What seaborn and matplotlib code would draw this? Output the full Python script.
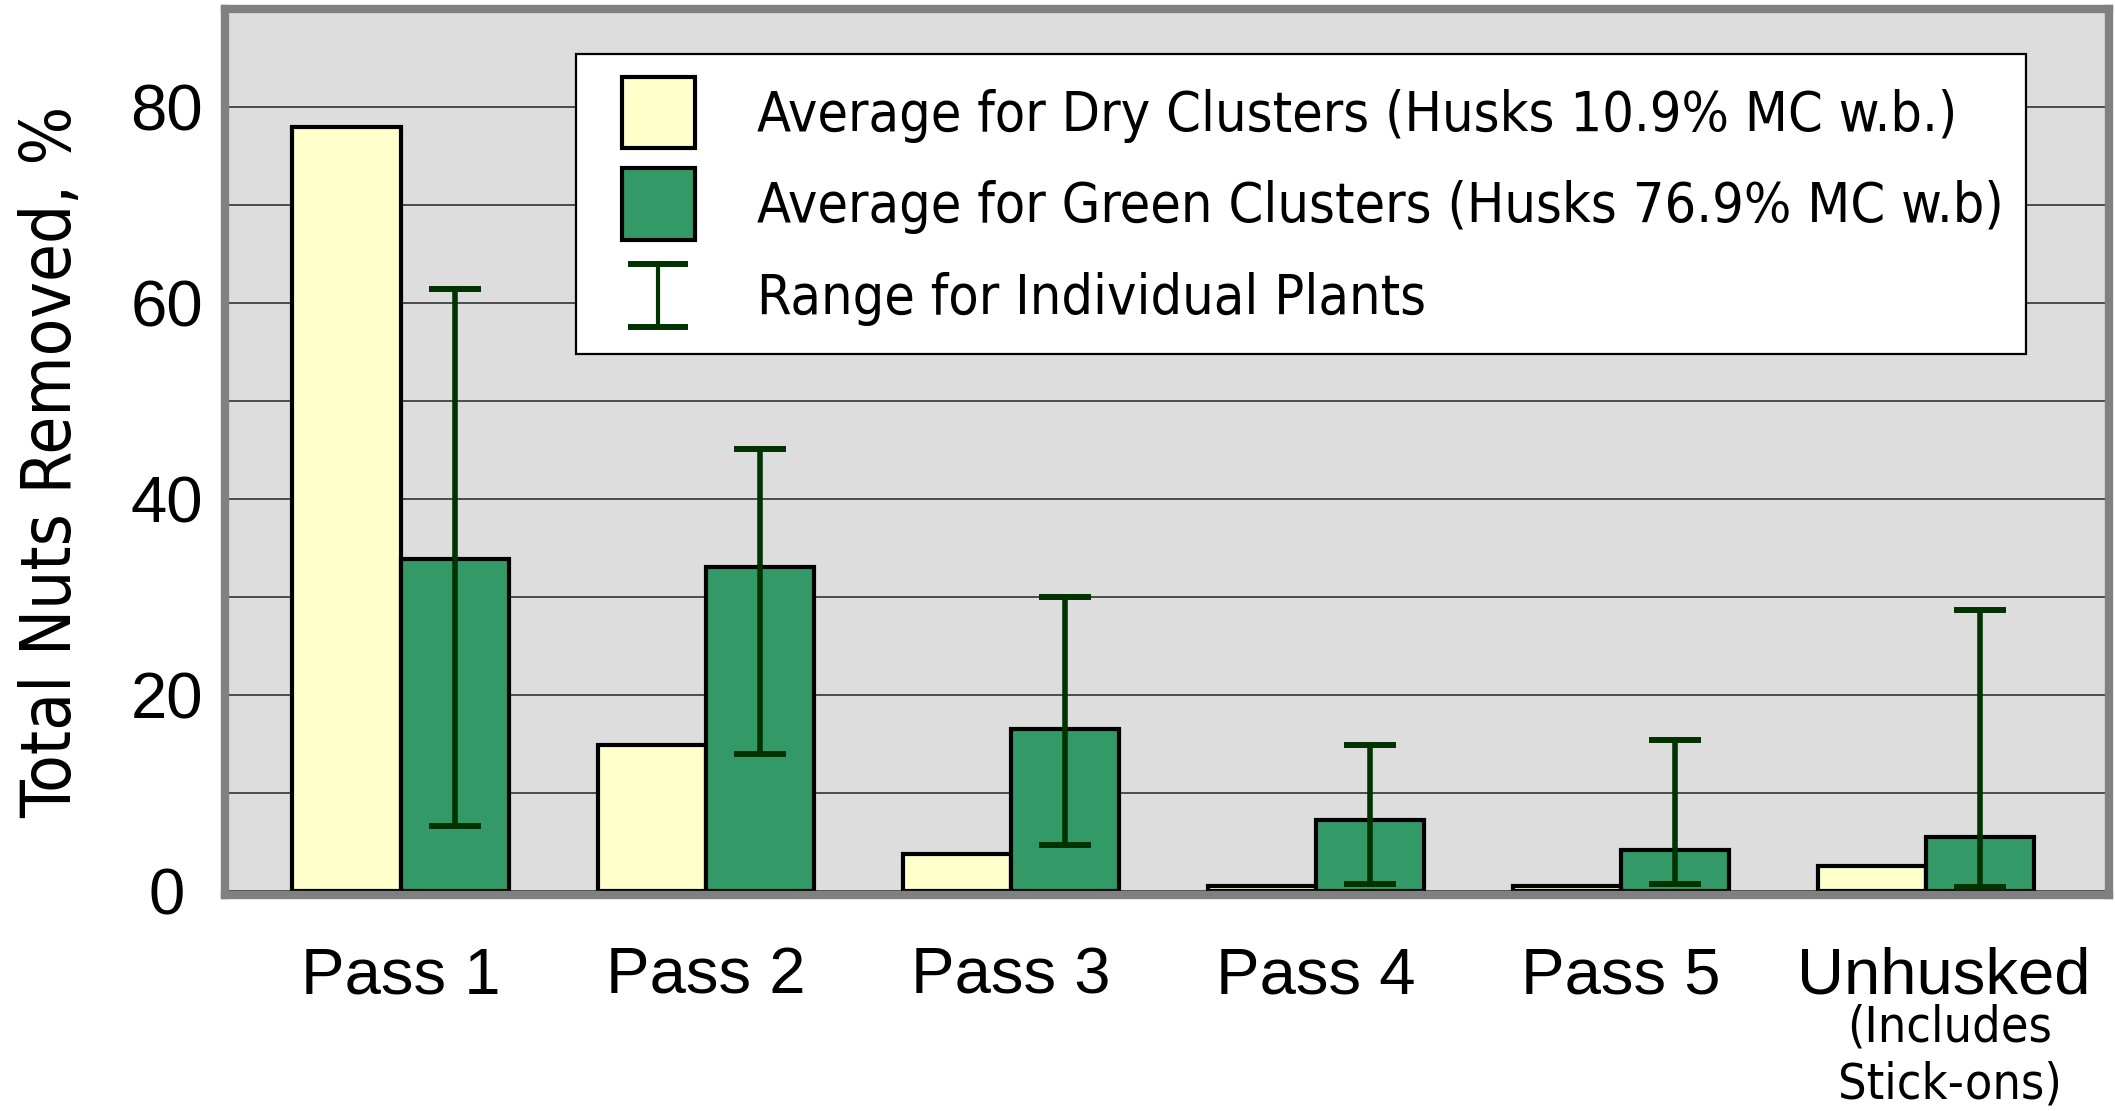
import numpy as np
import pandas as pd
import matplotlib
matplotlib.use("Agg")
import matplotlib.pyplot as plt
import seaborn as sns
from matplotlib.patches import Patch, Rectangle
from matplotlib.lines import Line2D
from matplotlib.legend_handler import HandlerBase
from matplotlib.font_manager import FontProperties
from matplotlib.transforms import ScaledTranslation

# ---- data -------------------------------------------------------------
categories = ["Pass 1", "Pass 2", "Pass 3", "Pass 4", "Pass 5", "Unhusked"]
dry_avg = [78.0, 14.9, 3.8, 0.5, 0.5, 2.6]
green_avg = [33.9, 33.1, 16.5, 7.2, 4.2, 5.5]
green_min = [6.6, 14.0, 4.7, 0.7, 0.7, 0.4]
green_max = [61.5, 45.1, 30.0, 14.9, 15.4, 28.7]
series_labels = ["Average for Dry Clusters (Husks 10.9% MC w.b.)",
                 "Average for Green Clusters (Husks 76.9% MC w.b)"]
range_label = "Range for Individual Plants"
y_ticks = [0, 20, 40, 60, 80]
y_minor = [10, 30, 50, 70]
y_label = "Total Nuts Removed, %"
unhusked_note = "(Includes\nStick-ons)"

# ---- styling ----------------------------------------------------------
DRY = "#FFFFCC"
GREEN = "#339966"
RANGE = "#003300"
PANEL = "#DDDDDD"
FRAME = "#808080"

plt.rcParams["font.family"] = ["Liberation Sans", "DejaVu Sans"]
narrow = dict(family="DejaVu Sans", stretch="condensed")

df = pd.DataFrame({
    "category": categories * 2,
    "series": [series_labels[0]] * len(categories) + [series_labels[1]] * len(categories),
    "value": dry_avg + green_avg,
})

fig = plt.figure(figsize=(21.15, 11.11), dpi=100)
ax = fig.add_axes([0.1064, 0.1944, 0.8908, 0.7971])
ax.set_facecolor(PANEL)

sns.barplot(data=df, x="category", y="value", hue="series",
            hue_order=series_labels, order=categories,
            palette={series_labels[0]: DRY, series_labels[1]: GREEN},
            saturation=1, width=0.71, gap=0, edgecolor="black",
            linewidth=3, legend=False, ax=ax, zorder=2)

# range whiskers centred on the green bars
green_bars = ax.containers[1]
xs = [p.get_x() + p.get_width() / 2 for p in green_bars]
lo = np.array(green_avg) - np.array(green_min)
hi = np.array(green_max) - np.array(green_avg)
ax.errorbar(xs, green_avg, yerr=[lo, hi], fmt="none", ecolor=RANGE,
            elinewidth=4, capsize=18.5, capthick=4.3, zorder=3)

ax.set_xlim(-0.576, 5.60)
ax.set_ylim(-0.41, 90)
ax.set_yticks(y_ticks)
ax.set_yticks(y_minor, minor=True)
ax.yaxis.grid(True, which="both", color="#333333", linewidth=1.2)
ax.xaxis.grid(False)
ax.set_axisbelow(True)
ax.set_xlabel("")
ax.set_ylabel("")
ax.tick_params(axis="both", which="both", length=0)
ax.tick_params(axis="y", pad=42, labelsize=47)
ax.tick_params(axis="x", pad=37, labelsize=47)
for lbl in ax.get_yticklabels():
    lbl.set_horizontalalignment("center")
xl = ax.get_xticklabels()
xl[-1].set_transform(xl[-1].get_transform()
                     + ScaledTranslation(13 / 72, 0, fig.dpi_scale_trans))

for s in ax.spines.values():
    s.set_color(FRAME)
    s.set_linewidth(6)
    s.set_visible(True)

ax.annotate(unhusked_note, xy=(5, 0), xycoords=("data", "axes fraction"),
            xytext=(17, -116), textcoords="offset points",
            ha="center", va="center", multialignment="center",
            fontsize=36, linespacing=1.24, **narrow)

fig.text(71 / 2115, 1 - 462 / 1111, y_label, rotation=90,
         rotation_mode="anchor", ha="center", va="baseline",
         fontsize=49.5, **narrow)


# ---- legend -----------------------------------------------------------
SWATCH = 0.76  # fraction of the handle box used by the swatch


class SwatchHandler(HandlerBase):
    def create_artists(self, legend, orig_handle, xdescent, ydescent,
                       width, height, fontsize, trans):
        w = width * SWATCH
        r = Rectangle((-xdescent + width - w, -ydescent), w, height,
                      facecolor=orig_handle.get_facecolor(),
                      edgecolor="black", linewidth=3, transform=trans)
        return [r]


class RangeHandler(HandlerBase):
    def create_artists(self, legend, orig_handle, xdescent, ydescent,
                       width, height, fontsize, trans):
        w = width * SWATCH
        cx = -xdescent + width - w / 2
        cy = -ydescent + height / 2
        half = height * 0.44
        cap = w * 0.37
        stem = Line2D([cx, cx], [cy - half, cy + half], color=RANGE,
                      linewidth=3, transform=trans)
        top = Line2D([cx - cap, cx + cap], [cy + half] * 2, color=RANGE,
                     linewidth=4.3, transform=trans)
        bot = Line2D([cx - cap, cx + cap], [cy - half] * 2, color=RANGE,
                     linewidth=4.3, transform=trans)
        return [stem, top, bot]


dry_h = Patch(facecolor=DRY)
green_h = Patch(facecolor=GREEN)
range_h = Line2D([], [], color=RANGE)
leg_fs = 40
leg = ax.legend([dry_h, green_h, range_h],
                [series_labels[0], series_labels[1], range_label],
                handler_map={dry_h: SwatchHandler(), green_h: SwatchHandler(),
                             range_h: RangeHandler()},
                loc="upper left", bbox_to_anchor=(576 / 2115, 1 - 54 / 1111),
                bbox_transform=fig.transFigure, borderaxespad=0,
                prop=FontProperties(size=leg_fs, **narrow),
                handlelength=1.73, handleheight=1.61, handletextpad=1.12,
                labelspacing=0.36, borderpad=0.405,
                fancybox=False, shadow=False, framealpha=1,
                facecolor="white", edgecolor="black")
leg.get_frame().set_linewidth(1.6)
leg.set_zorder(5)

fig.savefig("out.png", dpi=100, facecolor="white")
